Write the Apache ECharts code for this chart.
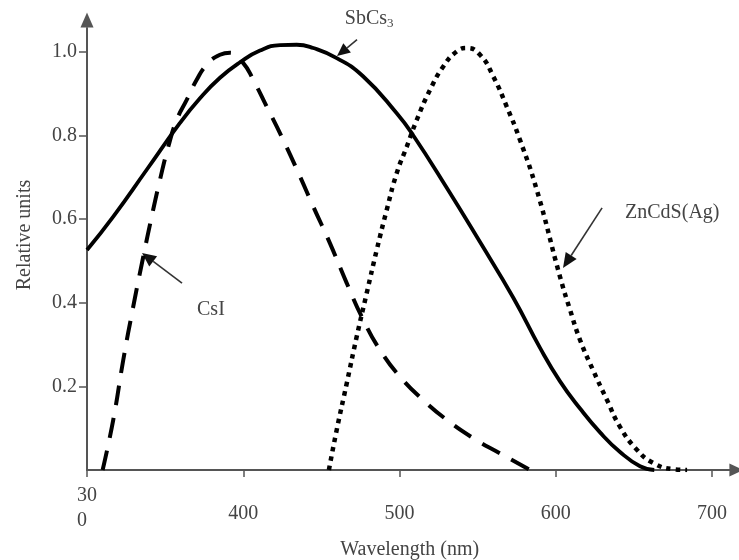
<!DOCTYPE html>
<html>
<head>
<meta charset="utf-8">
<script src="https://cdn.jsdelivr.net/npm/echarts@6/dist/echarts.min.js"></script>
<style>
html,body{margin:0;padding:0;background:#fff;}
#chart{width:739px;height:560px;}
</style>
</head>
<body>
<div id="chart"></div>
<script>
// ---- Data ----
const sbWavelengths = [300, 316.8, 338.2, 359.5, 372.3, 385.1, 397.9, 410.7, 423.5, 434.2, 444.8, 459.8, 476.8, 498.2, 508.8, 530.2, 551.5, 572.8, 589.9, 602.7, 615.5, 628.3, 641.1, 653.9, 663];
const sbValues      = [0.526, 0.606, 0.718, 0.830, 0.889, 0.938, 0.975, 1.003, 1.016, 1.017, 1.009, 0.985, 0.941, 0.853, 0.800, 0.675, 0.545, 0.412, 0.292, 0.212, 0.147, 0.090, 0.043, 0.009, 0.0];

const csiWavelengths = [310, 316.8, 323.2, 329.6, 336, 341.4, 346.7, 352, 357.4, 363.8, 370.2, 376.6, 385.1, 391.5, 400, 406.4, 415, 425.6, 436.3, 444.8, 455.5, 466.2, 476.8, 487.5, 500.3, 515.2, 530.2, 547.2, 564.3, 583.5];
const csiValues      = [0.0, 0.120, 0.263, 0.391, 0.510, 0.606, 0.694, 0.773, 0.837, 0.885, 0.933, 0.969, 0.993, 0.998, 0.973, 0.933, 0.869, 0.789, 0.702, 0.630, 0.542, 0.447, 0.359, 0.287, 0.223, 0.167, 0.120, 0.076, 0.040, 0.0];

const znWavelengths = [454.8, 459.8, 466.2, 472.6, 479, 485.4, 491.8, 498.2, 504.6, 511, 519.5, 528, 536.6, 543, 551.5, 560, 568.6, 577.1, 587.8, 602.7, 609.1, 615.5, 623.8, 632.8, 641.1, 652, 662.2, 675, 684];
const znValues      = [0.0, 0.096, 0.207, 0.319, 0.423, 0.526, 0.622, 0.710, 0.773, 0.837, 0.909, 0.965, 1.001, 1.009, 0.993, 0.941, 0.869, 0.789, 0.670, 0.462, 0.383, 0.311, 0.239, 0.167, 0.103, 0.048, 0.017, 0.002, 0.0];

const seriesNames = ['SbCs3', 'CsI', 'ZnCdS(Ag)'];
const xTicks = { min: 300, max: 713, interval: 100 };
const yTicks = { min: 0, max: 1.057, interval: 0.2 };

// annotations: text anchor (left-middle), arrow tail, arrow tip — in data coordinates
const annSb  = { text: [465, 1.079], tail: [472.8, 1.029], tip: [460, 0.99] };
const annZn  = { text: [644.3, 0.615], tail: [629.6, 0.627], tip: [604.6, 0.483] };
const annCsI = { text: [370.4, 0.383], tail: [360.8, 0.447], tip: [335.2, 0.519] };

// ---- Chart ----
const pairs = (xs, ys) => xs.map((x, i) => [x, ys[i]]);
const FONT = 'Liberation Serif';
const AXIS_COLOR = '#555';
const TEXT_COLOR = '#444';

const chart = echarts.init(document.getElementById('chart'), null, { renderer: 'canvas' });

chart.setOption({
  animation: false,
  backgroundColor: '#fff',
  grid: { left: 87, right: 6.6, top: 28, bottom: 90, containLabel: false, outerBoundsMode: 'none' },
  xAxis: {
    type: 'value',
    min: xTicks.min, max: xTicks.max, interval: xTicks.interval,
    name: 'Wavelength (nm)', nameLocation: 'middle', nameGap: 70,
    nameTextStyle: { fontFamily: FONT, fontSize: 20, color: TEXT_COLOR },
    splitLine: { show: false },
    axisLine: { show: true, lineStyle: { color: AXIS_COLOR, width: 2 }, symbol: ['none', 'triangle'], symbolSize: [13, 14], symbolOffset: [0, 4] },
    axisTick: { show: true, inside: false, length: 7, lineStyle: { color: AXIS_COLOR, width: 1.5 } },
    axisLabel: {
      margin: 13, showMaxLabel: false,
      fontFamily: FONT, fontSize: 20, color: TEXT_COLOR,
      formatter: v => v === 300 ? '{a|30}\n{c|0}' : '{b|' + v + '}',
      rich: {
        a: { fontFamily: FONT, fontSize: 20, color: TEXT_COLOR, lineHeight: 25 },
        c: { fontFamily: FONT, fontSize: 20, color: TEXT_COLOR, lineHeight: 25, align: 'left' },
        b: { fontFamily: FONT, fontSize: 20, color: TEXT_COLOR, lineHeight: 62 }
      }
    }
  },
  yAxis: {
    type: 'value',
    min: yTicks.min, max: yTicks.max, interval: yTicks.interval,
    name: 'Relative units', nameLocation: 'middle', nameGap: 52, nameRotate: 90,
    nameTextStyle: { fontFamily: FONT, fontSize: 20, color: TEXT_COLOR, padding: [0, 0, 0, 28] },
    splitLine: { show: false },
    axisLine: { show: true, lineStyle: { color: AXIS_COLOR, width: 2 }, symbol: ['none', 'triangle'], symbolSize: [13, 15], symbolOffset: [0, 8] },
    axisTick: { show: true, inside: false, length: 8, lineStyle: { color: AXIS_COLOR, width: 1.5 } },
    axisLabel: {
      margin: 10, showMinLabel: false, showMaxLabel: false,
      fontFamily: FONT, fontSize: 20, color: TEXT_COLOR,
      formatter: v => v.toFixed(1)
    }
  },
  series: [
    {
      name: seriesNames[0], type: 'line', data: pairs(sbWavelengths, sbValues),
      smooth: 0.5, showSymbol: false, symbol: 'none',
      lineStyle: { color: '#000', width: 3.8, type: 'solid' }
    },
    {
      name: seriesNames[1], type: 'line', data: pairs(csiWavelengths, csiValues),
      smooth: 0.5, showSymbol: false, symbol: 'none',
      lineStyle: { color: '#000', width: 4, type: [20, 13] }
    },
    {
      name: seriesNames[2], type: 'line', data: pairs(znWavelengths, znValues),
      smooth: 0.5, showSymbol: false, symbol: 'none',
      lineStyle: { color: '#000', width: 4.5, type: [4.5, 5] }
    }
  ]
});

function arrowGraphics(ann, headLen, headHalf) {
  const S = chart.convertToPixel({ gridIndex: 0 }, ann.tail);
  const T = chart.convertToPixel({ gridIndex: 0 }, ann.tip);
  const dx = T[0] - S[0], dy = T[1] - S[1];
  const len = Math.hypot(dx, dy);
  const ux = dx / len, uy = dy / len;
  const nx = -uy, ny = ux;
  const B = [T[0] - ux * headLen, T[1] - uy * headLen];
  return [
    { type: 'line', shape: { x1: S[0], y1: S[1], x2: B[0], y2: B[1] }, style: { stroke: '#333', lineWidth: 1.6 }, silent: true },
    { type: 'polygon', shape: { points: [T, [B[0] + nx * headHalf, B[1] + ny * headHalf], [B[0] - nx * headHalf, B[1] - ny * headHalf]] }, style: { fill: '#111' }, silent: true }
  ];
}
function labelGraphic(ann, text, rich) {
  const P = chart.convertToPixel({ gridIndex: 0 }, ann.text);
  return {
    type: 'text', x: P[0], y: P[1], silent: true,
    style: { text: text, fontFamily: FONT, fontSize: 20, fill: TEXT_COLOR, align: 'left', verticalAlign: 'middle', rich: rich || {} }
  };
}

const g = [];
g.push(...arrowGraphics(annSb, 13, 6));
g.push(...arrowGraphics(annZn, 15, 6.5));
g.push(...arrowGraphics(annCsI, 14, 6.5));
g.push(labelGraphic(annSb, '{m|SbCs}{s|3}', {
  m: { fontFamily: FONT, fontSize: 20, fill: TEXT_COLOR },
  s: { fontFamily: FONT, fontSize: 13, fill: TEXT_COLOR, padding: [10, 0, 0, 0] }
}));
g.push(labelGraphic(annZn, 'ZnCdS(Ag)'));
g.push(labelGraphic(annCsI, 'CsI'));
chart.setOption({ graphic: g });
</script>
</body>
</html>
